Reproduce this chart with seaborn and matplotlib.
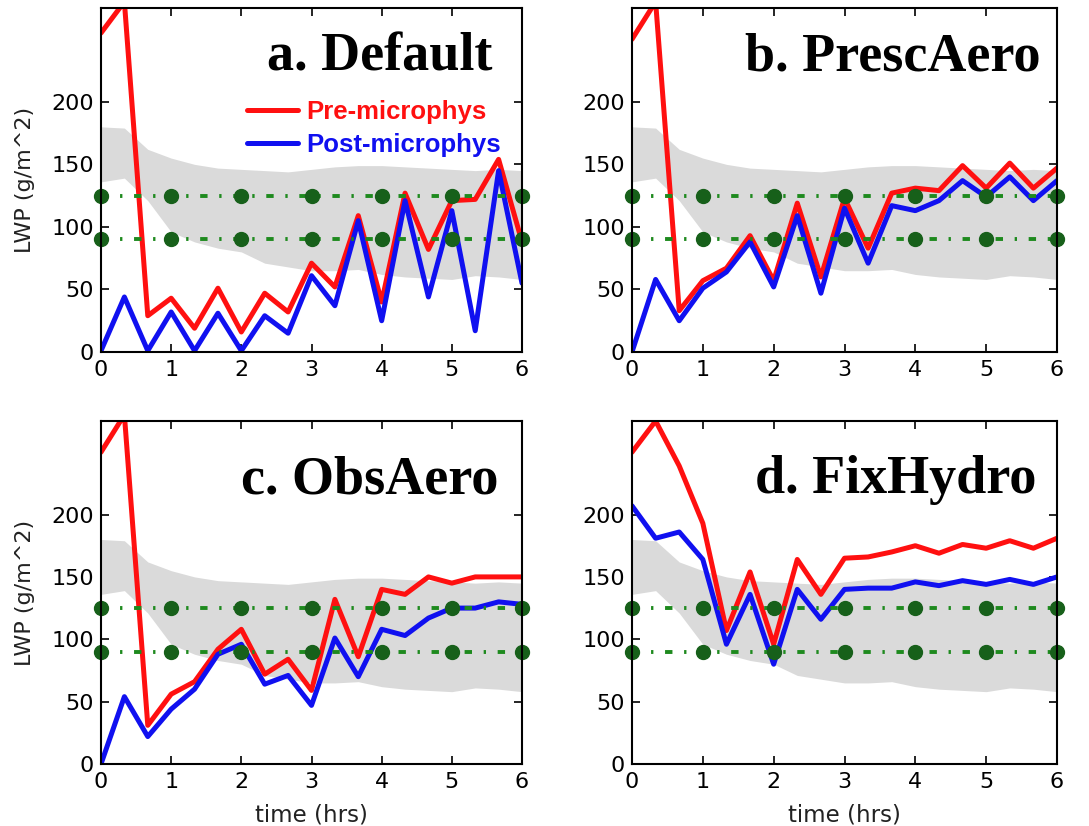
import numpy as np
import pandas as pd
import matplotlib
matplotlib.use("Agg")
import matplotlib.pyplot as plt
from matplotlib.lines import Line2D
import seaborn as sns

# ---------------- data ----------------
hours = [0, 1/3, 2/3, 1, 4/3, 5/3, 2, 7/3, 8/3, 3, 10/3, 11/3, 4, 13/3, 14/3, 5, 16/3, 17/3, 6]

panel_titles = ["a. Default", "b. PrescAero", "c. ObsAero", "d. FixHydro"]

pre_default = [255, 280, 29, 43, 19, 51, 16, 47, 32, 71, 52, 109, 40, 127, 82, 121, 122, 154, 88]
post_default = [1, 44, 1, 32, 1, 31, 1, 29, 15, 61, 37, 105, 25, 121, 44, 113, 17, 145, 55]

pre_presc = [250, 280, 33, 57, 67, 93, 57, 119, 60, 123, 83, 127, 131, 129, 149, 131, 151, 131, 147]
post_presc = [0, 58, 25, 51, 64, 88, 52, 109, 47, 115, 71, 117, 113, 121, 137, 124, 140, 121, 137]

pre_obs = [250, 280, 31, 56, 66, 92, 108, 72, 84, 59, 132, 86, 140, 136, 150, 145, 150, 150, 150]
post_obs = [0, 54, 22, 44, 60, 88, 96, 64, 71, 47, 101, 70, 108, 103, 117, 125, 125, 130, 128]

pre_fix = [250, 275, 239, 193, 107, 154, 96, 164, 136, 165, 166, 170, 175, 169, 176, 173, 179, 173, 181]
post_fix = [207, 181, 186, 164, 96, 136, 80, 140, 116, 140, 141, 141, 146, 143, 147, 144, 148, 144, 150]

band_upper = [180, 179, 162, 155, 150, 147, 146, 145, 144, 146, 148, 149, 149, 148, 147, 146, 145, 146, 145]
band_lower = [136, 139, 121, 96, 88, 83, 80, 71, 68, 65, 65, 66, 62, 60, 59, 58, 61, 60, 58]

ref_hours = [0, 1, 2, 3, 4, 5, 6]
ref_levels = [125, 90]

series_names = ["Pre-microphys", "Post-microphys"]
yticks = [0, 50, 100, 150, 200]
xticks = [0, 1, 2, 3, 4, 5, 6]

pre_all = [pre_default, pre_presc, pre_obs, pre_fix]
post_all = [post_default, post_presc, post_obs, post_fix]

# ---------------- style ----------------
sns.set_style("ticks", {
    "xtick.direction": "in", "ytick.direction": "in",
    "axes.edgecolor": "black",
})
plt.rcParams["font.family"] = ["DejaVu Sans"]
plt.rcParams["axes.linewidth"] = 1.5

RED = "#ff1010"
BLUE = "#1010f0"
palette = {series_names[0]: RED, series_names[1]: BLUE}

fig = plt.figure(figsize=(10.89, 8.26), dpi=100)
W, H = 1089, 826
boxes = [(101, 8, 522, 352), (632, 8, 1057, 352), (101, 421, 522, 764), (632, 421, 1057, 764)]
title_cx = [0.663, 0.613, 0.639, 0.620]
title_by = [0.817, 0.817, 0.79, 0.79]

for i, (l, t, r, b) in enumerate(boxes):
    ax = fig.add_axes([l / W, 1 - b / H, (r - l) / W, (b - t) / H])
    ax.fill_between(hours, band_lower, band_upper, color="#dadada", lw=0, zorder=1)

    df = pd.DataFrame({
        "time": hours * 2,
        "LWP": pre_all[i] + post_all[i],
        "series": [series_names[0]] * len(hours) + [series_names[1]] * len(hours),
    })
    sns.lineplot(data=df, x="time", y="LWP", hue="series", palette=palette,
                 estimator=None, sort=False, lw=3.6, ax=ax, legend=False, zorder=3)

    for lvl in ref_levels:
        ax.plot(ref_hours, [lvl] * len(ref_hours), color="#1e8a1e", lw=2.8,
                linestyle=(0, (1.9, 3.0, 0.6, 3.0)), marker="o", markersize=10,
                markerfacecolor="#17601a", markeredgecolor="#17601a", zorder=4,
                clip_on=False)

    ax.set_xlim(0, 6)
    ax.set_ylim(0, 275)
    ax.set_xticks(xticks)
    ax.set_yticks(yticks)
    ax.tick_params(axis="both", which="major", direction="in", length=6, width=1.2,
                   top=True, right=True, labelsize=16, colors="black")
    ax.tick_params(axis="x", pad=6)
    ax.tick_params(axis="y", pad=5)
    for sp in ax.spines.values():
        sp.set_visible(True)
        sp.set_linewidth(1.5)
        sp.set_zorder(6)

    ax.set_xlabel("time (hrs)" if i >= 2 else "", fontsize=16.5, labelpad=8,
                  color="#222222")
    ax.set_ylabel("LWP (g/m^2)" if i % 2 == 0 else "", fontsize=16, labelpad=12,
                  color="#222222")

    ax.text(title_cx[i], title_by[i], panel_titles[i], transform=ax.transAxes,
            ha="center", va="baseline", fontsize=39, fontweight="bold", color="black",
            family=["Liberation Serif", "DejaVu Serif"], zorder=7)

    if i == 0:
        handles = [Line2D([], [], color=RED, lw=3.6), Line2D([], [], color=BLUE, lw=3.6)]
        ax.legend(handles, series_names, loc="upper left",
                  bbox_to_anchor=(0.347, 0.732), frameon=False, borderpad=0,
                  borderaxespad=0, handlelength=2.0, handletextpad=0.3,
                  labelspacing=0.33, labelcolor="linecolor",
                  prop={"family": "Liberation Sans", "weight": "bold", "size": 18.5})

fig.savefig("out.png", dpi=100)
